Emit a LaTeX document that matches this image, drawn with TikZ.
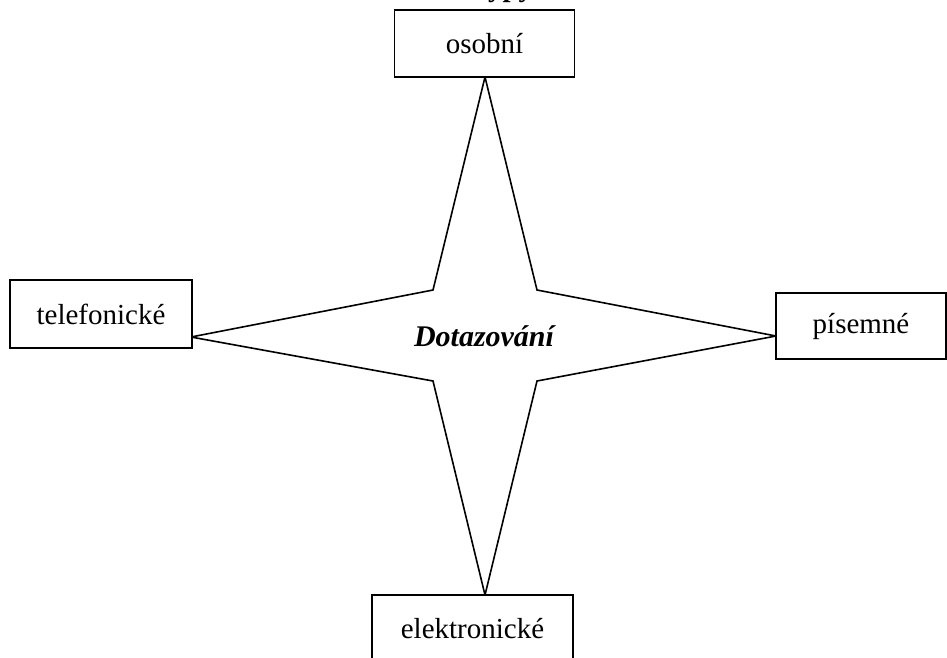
\documentclass[tikz,border=0pt]{standalone}
\usepackage{fontspec}
\setmainfont{Liberation Serif}
\begin{document}
\begin{tikzpicture}[x=1pt,y=-1pt,
  label box/.style={draw=black, line width=1.8pt, fill=white, inner sep=0pt,
    font=\fontsize{29}{32}\selectfont},
  starline/.style={draw=black, line width=1.6pt, line join=miter}]
\useasboundingbox (0,0) rectangle (947,657);

% heading, mostly above the page edge
\node[anchor=base, font=\fontsize{29}{32}\selectfont\bfseries] (title) at (502,-4) {Typy};

% star tips and inner corners
\coordinate (tipN) at (485,77);
\coordinate (tipS) at (485,595);
\coordinate (tipW) at (191,337);
\coordinate (tipE) at (776,336);
\coordinate (inNW) at (433,290);
\coordinate (inNE) at (537,290);
\coordinate (inSW) at (433,381);
\coordinate (inSE) at (537,381);

\draw[starline, fill=white] (tipN) -- (inNE) -- (tipE) -- (inSE) -- (tipS)
  -- (inSW) -- (tipW) -- (inNW) -- cycle;

\node[font=\fontsize{30}{33}\selectfont\bfseries\itshape] (center) at (484,336) {Dotazování};

% the four boxes
\node[label box, minimum width=180pt, minimum height=67pt] (os) at (484.5,43.5) {osobní};
\node[label box, minimum width=182pt, minimum height=68pt] (tel) at (101,314) {telefonické};
\node[label box, minimum width=170pt, minimum height=66pt] (pis) at (861,326) {písemné};
\node[label box, minimum width=201pt, minimum height=67pt] (el) at (472.5,628.5) {elektronické};
\end{tikzpicture}
\end{document}
